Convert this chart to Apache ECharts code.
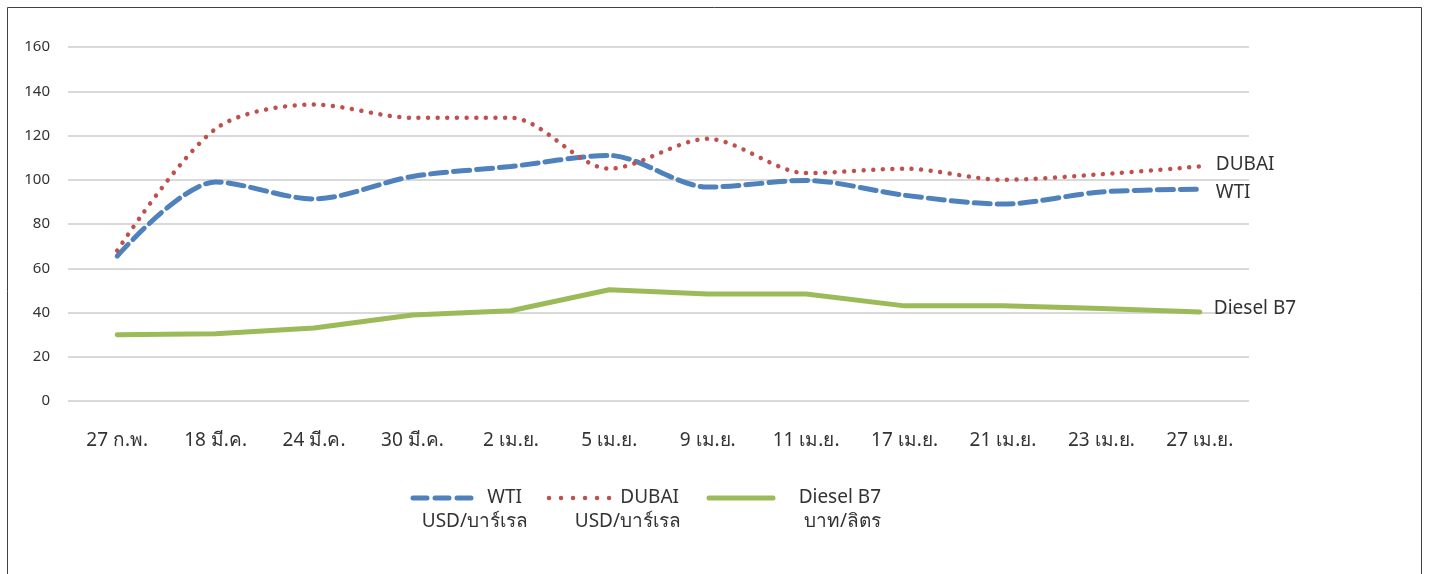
<!DOCTYPE html>
<html><head><meta charset="utf-8">
<script src="https://cdn.jsdelivr.net/npm/echarts@6/dist/echarts.min.js"></script>
<style>html,body{margin:0;padding:0;background:#fff}#c{width:1429px;height:574px}</style>
</head><body><div id="c"></div>
<script>
const categories = ['27 ก.พ.','18 มี.ค.','24 มี.ค.','30 มี.ค.','2 เม.ย.','5 เม.ย.','9 เม.ย.','11 เม.ย.','17 เม.ย.','21 เม.ย.','23 เม.ย.','27 เม.ย.'];
const wti    = [65.5, 99, 91.3, 101.5, 106, 111, 96.7, 99.7, 93, 89, 94.5, 95.7];
const dubai  = [68, 123, 134, 128, 128, 105, 118.5, 103, 105, 100, 102.5, 106];
const diesel = [29.9, 30.4, 33, 38.9, 40.8, 50.3, 48.4, 48.4, 43, 43, 41.8, 40.2];
const yTicks = [0, 20, 40, 60, 80, 100, 120, 140, 160];

const FONT = "'Noto Sans', 'DejaVu Sans', sans-serif";
const TXT = '#333333';
const chart = echarts.init(document.getElementById('c'));
function t(x, y, text) {
  return {type: 'text', style: {x: x, y: y, text: text, fill: TXT, font: '19px ' + FONT, textAlign: 'right', textVerticalAlign: 'middle'}};
}
chart.setOption({
  animation: false,
  grid: {left: 68, right: 180, top: 47, bottom: 173, containLabel: false},
  xAxis: {
    type: 'category', data: categories, boundaryGap: true,
    axisLine: {show: false}, axisTick: {show: false},
    axisLabel: {color: TXT, fontSize: 19, fontFamily: FONT, margin: 30}
  },
  yAxis: {
    type: 'value', min: yTicks[0], max: yTicks[yTicks.length-1], interval: 20,
    axisLine: {show: false}, axisTick: {show: false},
    axisLabel: {color: TXT, fontSize: 15, fontFamily: FONT, margin: 18},
    splitLine: {lineStyle: {color: '#d9d9d9', width: 2}}
  },
  series: [
    {name: 'WTI', type: 'line', data: wti, smooth: 0.3, symbol: 'none',
     lineStyle: {color: '#4f81bd', width: 5, type: [16, 7], cap: 'round'},
     endLabel: {show: true, formatter: 'WTI', color: TXT, fontSize: 19, fontFamily: FONT, offset: [8, 3]}},
    {name: 'DUBAI', type: 'line', data: dubai, smooth: 0.3, symbol: 'none',
     lineStyle: {color: '#c0504d', width: 4.5, type: [0.01, 9.6], cap: 'round'},
     endLabel: {show: true, formatter: 'DUBAI', color: TXT, fontSize: 19, fontFamily: FONT, offset: [8, -2]}},
    {name: 'Diesel B7', type: 'line', data: diesel, smooth: false, symbol: 'none',
     lineStyle: {color: '#9bbb59', width: 5, cap: 'round'},
     endLabel: {show: true, formatter: 'Diesel B7', color: TXT, fontSize: 19, fontFamily: FONT, offset: [6, -3]}}
  ],
  graphic: [
    {type: 'rect', shape: {x: 7.5, y: 7.5, width: 1414, height: 600}, style: {fill: 'none', stroke: '#404040', lineWidth: 1}, silent: true},
    {type: 'line', shape: {x1: 413, y1: 498, x2: 473, y2: 498}, style: {stroke: '#4f81bd', lineWidth: 5, lineDash: [14, 8], lineCap: 'round'}},
    t(522, 498, 'WTI'),
    t(528, 522, 'USD/บาร์เรล'),
    {type: 'line', shape: {x1: 549, y1: 498, x2: 610, y2: 498}, style: {stroke: '#c0504d', lineWidth: 4.5, lineDash: [0.01, 12], lineCap: 'round'}},
    t(679, 498, 'DUBAI'),
    t(681, 522, 'USD/บาร์เรล'),
    {type: 'line', shape: {x1: 709, y1: 498, x2: 773, y2: 498}, style: {stroke: '#9bbb59', lineWidth: 5, lineCap: 'round'}},
    t(881, 498, 'Diesel B7'),
    t(881, 522, 'บาท/ลิตร')
  ]
});
</script></body></html>
